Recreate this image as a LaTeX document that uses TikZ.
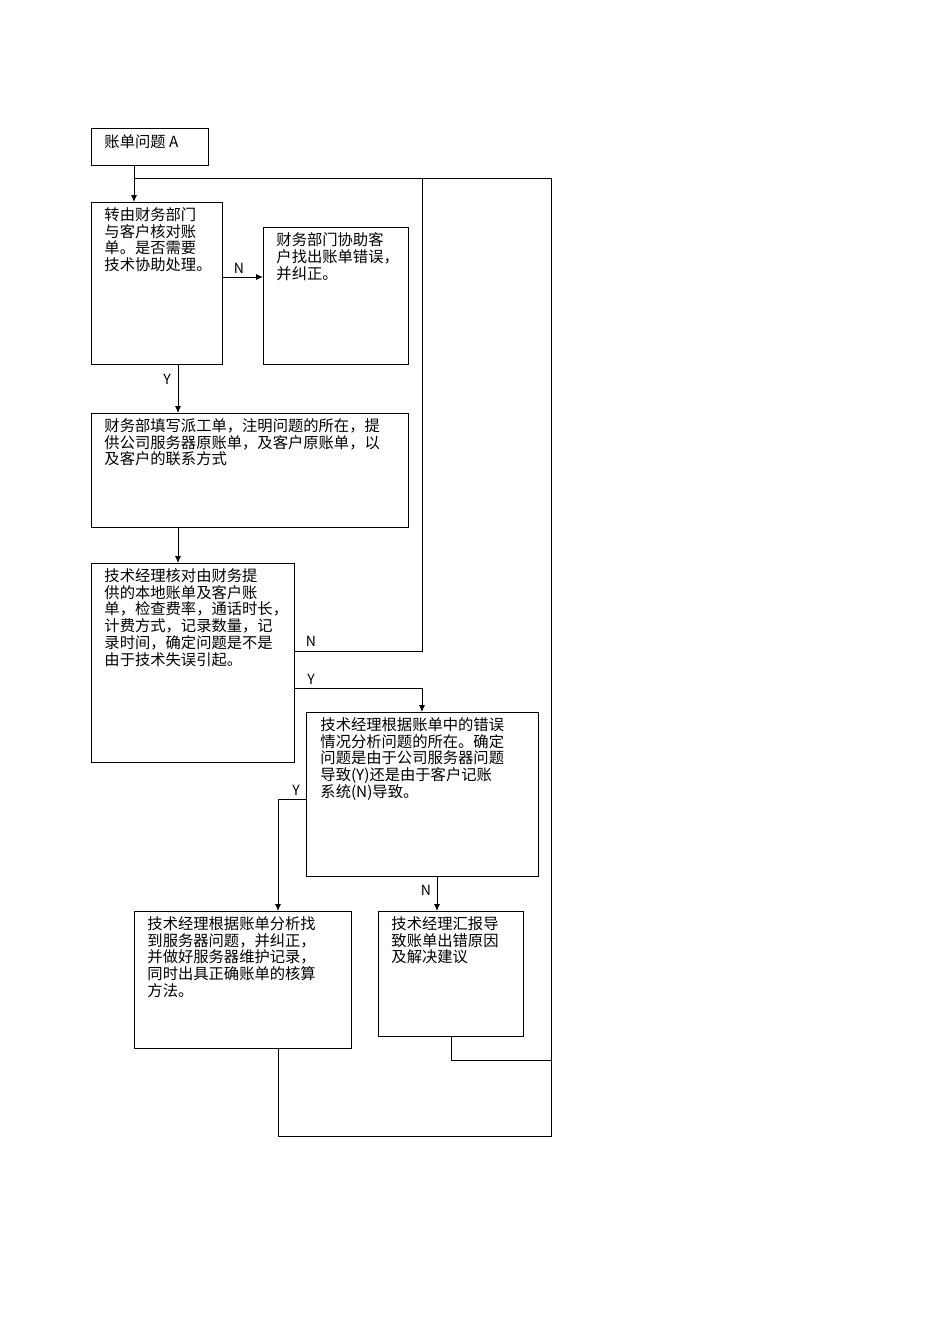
\documentclass[tikz,border=0pt]{standalone}
\usepackage{fontspec}
\newfontfamily\cjk{Noto Sans CJK SC}
\begin{document}
\begin{tikzpicture}[x=1pt,y=-1pt,line width=0.9pt,
 box/.style={draw},
 txt/.style={anchor=north west,inner sep=0pt,align=left,font=\cjk\fontsize{15.3}{16.8}\selectfont},
 lab/.style={font=\cjk\fontsize{14}{16}\selectfont,inner sep=1pt},
 arr/.style={-{Latex[length=7pt,width=6pt]}}]
\usetikzlibrary{arrows.meta}
\useasboundingbox (0,0) rectangle (950,1344);
\draw[box] (91,128) rectangle (208,165); \node[txt] (ta) at (104,134) {账单问题 A};
\draw[box] (91,202) rectangle (222,364);
\node[txt] at (104,207) {转由财务部门\\与客户核对账\\单。是否需要\\技术协助处理。};
\draw[box] (263,227) rectangle (408,364);
\node[txt] at (276,232) {财务部门协助客\\户找出账单错误，\\并纠正。};
\draw[box] (91,413) rectangle (408,527);
\node[txt] at (104,418) {财务部填写派工单，注明问题的所在，提\\供公司服务器原账单，及客户原账单，以\\及客户的联系方式};
\draw[box] (91,563) rectangle (294,762);
\node[txt] at (104,568) {技术经理核对由财务提\\供的本地账单及客户账\\单，检查费率，通话时长，\\计费方式，记录数量，记\\录时间，确定问题是不是\\由于技术失误引起。};
\draw[box] (306,712) rectangle (538,876);
\node[txt] at (320,717) {技术经理根据账单中的错误\\情况分析问题的所在。确定\\问题是由于公司服务器问题\\导致(Y)还是由于客户记账\\系统(N)导致。};
\draw[box] (134,911) rectangle (351,1048);
\node[txt] at (147,916) {技术经理根据账单分析找\\到服务器问题，并纠正，\\并做好服务器维护记录，\\同时出具正确账单的核算\\方法。};
\draw[box] (378,911) rectangle (523,1036);
\node[txt] at (391,916) {技术经理汇报导\\致账单出错原因\\及解决建议};
\draw[arr] (134,165) -- (134,202);
\draw (134,178) -- (551,178) -- (551,1136) -- (278,1136) -- (278,1048);
\draw (422,178) -- (422,651) -- (294,651);
\node[lab] at (311,641) {N};
\draw[arr] (222,277) -- (263,277); \node[lab] at (239,268) {N};
\draw[arr] (178,364) -- (178,413); \node[lab] at (167,379) {Y};
\draw[arr] (178,527) -- (178,563);
\draw[arr] (294,688) -- (422,688) -- (422,712); \node[lab] at (311,679) {Y};
\draw[arr] (306,799) -- (278,799) -- (278,911); \node[lab] at (296,790) {Y};
\draw[arr] (437,876) -- (437,911); \node[lab] at (426,890) {N};
\draw (451,1036) -- (451,1060) -- (551,1060);
\end{tikzpicture}
\end{document}
